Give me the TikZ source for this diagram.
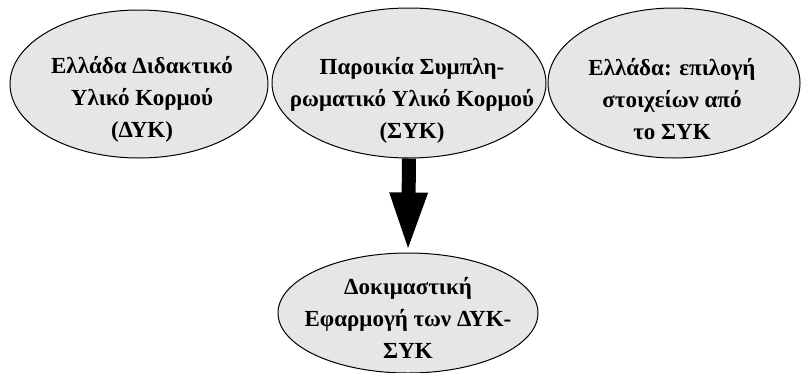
\documentclass[tikz,border=0pt]{standalone}
\usepackage{fontspec}
\setmainfont{Liberation Serif}
\usetikzlibrary{shapes.geometric,arrows.meta}
\definecolor{blobfill}{HTML}{E6E6E6}
\tikzset{
  blob/.style={ellipse, draw=black, line width=1pt, fill=blobfill, inner sep=0pt},
  txt/.style={align=center, font=\fontsize{23}{32}\selectfont\bfseries, inner sep=0pt},
  bigarrow/.style={line width=14pt, -{Triangle[length=60pt,width=34pt]}}
}
\begin{document}
\begin{tikzpicture}[x=1pt,y=-1pt]
\useasboundingbox (0,0) rectangle (802,372);
\node[blob, minimum width=258pt, minimum height=148pt] (a) at (139,84) {};
\node[blob, minimum width=274pt, minimum height=150pt] (b) at (409,83) {};
\node[blob, minimum width=252pt, minimum height=150pt] (c) at (674,83) {};
\node[blob, minimum width=260pt, minimum height=120pt] (d) at (408,313) {};
\node[txt] (ta) at (142,99) {Ελλάδα Διδακτικό\\Υλικό Κορμού\\(ΔΥΚ)};
\node[txt] (tb) at (412,100) {Παροικία Συμπλη-\\ρωματικό Υλικό Κορμού\\(ΣΥΚ)};
\node[txt] (tc) at (672,99) {Ελλάδα: επιλογή\\στοιχείων από\\το ΣΥΚ};
\node[txt] (td) at (408,318) {Δοκιμαστική\\Εφαρμογή των ΔΥΚ-\\ΣΥΚ};
\draw[bigarrow] (b.south) -- (d.north);
\end{tikzpicture}
\end{document}
